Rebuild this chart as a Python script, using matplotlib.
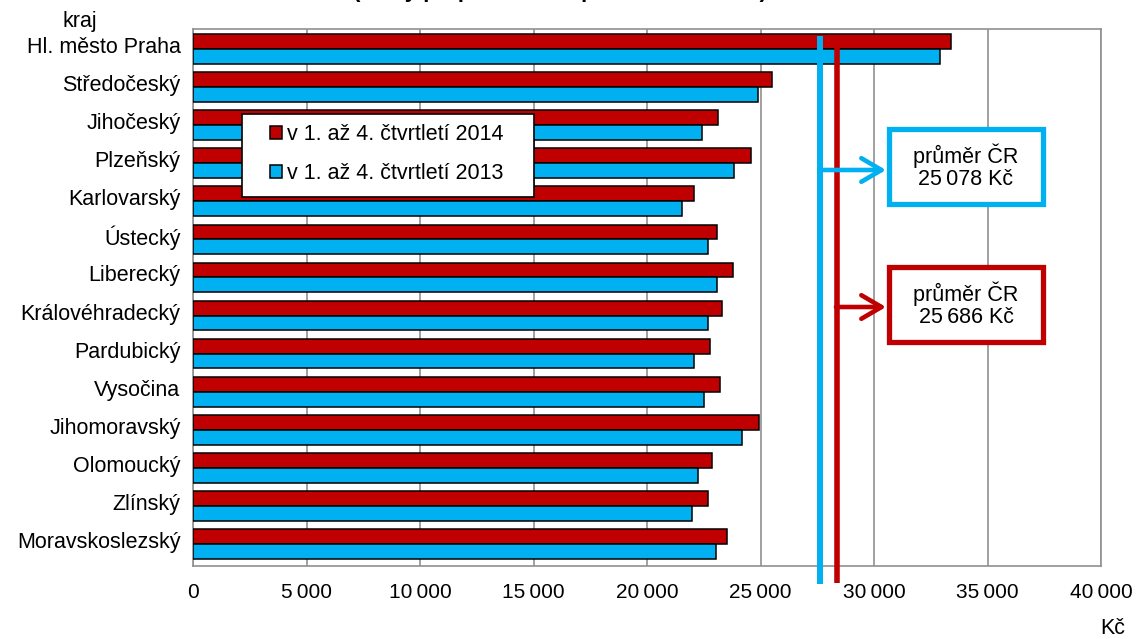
import numpy as np
import matplotlib
matplotlib.use("Agg")
import matplotlib.pyplot as plt
from matplotlib.patches import Rectangle
from matplotlib.transforms import ScaledTranslation

plt.rcParams['font.family'] = ['Liberation Sans', 'DejaVu Sans']

#%% data
kraje = ['Hl. město Praha', 'Středočeský', 'Jihočeský', 'Plzeňský', 'Karlovarský',
         'Ústecký', 'Liberecký', 'Královéhradecký', 'Pardubický', 'Vysočina',
         'Jihomoravský', 'Olomoucký', 'Zlínský', 'Moravskoslezský']
mzda_2014 = [33374, 25502, 23142, 24567, 22084, 23062, 23775,
             23317, 22797, 23229, 24920, 22877, 22700, 23510]
mzda_2013 = [32921, 24894, 22436, 23846, 21542, 22700, 23062,
             22700, 22084, 22520, 24199, 22261, 21996, 23047]
label_2014 = 'v 1. až 4. čtvrtletí 2014'
label_2013 = 'v 1. až 4. čtvrtletí 2013'
prumer_2013 = '25\u2009078 Kč'
prumer_2014 = '25\u2009686 Kč'
# vertical marker lines, as drawn in the original
line_2013 = 27620
line_2014 = 28350

red = '#C00000'
blue = '#00B0F0'
W, H = 1139, 639

fig = plt.figure(figsize=(W / 100, H / 100), dpi=100)
ax = fig.add_axes([193 / W, 1 - 566 / H, 908 / W, 537 / H])

y = np.arange(len(kraje))
bh = 0.39
ax.barh(y - bh / 2, mzda_2014, height=bh, color=red, edgecolor='black',
        linewidth=1.1, label=label_2014, zorder=3)
ax.barh(y + bh / 2, mzda_2013, height=bh, color=blue, edgecolor='black',
        linewidth=1.1, label=label_2013, zorder=3)

ax.set_ylim(13.577, -0.525)
ax.set_xlim(0, 40000)
ax.set_yticks(y)
ax.set_yticklabels(kraje, fontsize=15.5)
ax.set_xticks(np.arange(0, 40001, 5000))
ax.set_xticklabels([f'{v:,}'.replace(',', '\u2009') for v in range(0, 40001, 5000)],
                   fontsize=15)
ax.tick_params(axis='y', length=0, pad=9)
ax.tick_params(axis='x', length=0, pad=12)
up = ScaledTranslation(0, 4 / 100, fig.dpi_scale_trans)
for lab in ax.get_yticklabels():
    lab.set_transform(lab.get_transform() + up)
ax.grid(axis='x', color='#909090', linewidth=1.2, zorder=0)
for s in ax.spines.values():
    s.set_color('#909090')
    s.set_linewidth(1.2)

# marker lines
ax.plot([line_2013, line_2013], [-0.34, 14.05], color=blue, linewidth=4.3,
        clip_on=False, zorder=5, solid_capstyle='butt')
ax.plot([line_2014, line_2014], [-0.21, 14.02], color=red, linewidth=4.0,
        clip_on=False, zorder=5, solid_capstyle='butt')


def px(x, yy):
    return (x / W, 1 - yy / H)


# arrows + boxes
for xline, yy, col, ytop, txt in [(820, 170, blue, 129, prumer_2013),
                                  (836, 307, red, 267, prumer_2014)]:
    fig.patches.append(Rectangle(px(889, ytop + 75), 154 / W, 75 / H,
                                 transform=fig.transFigure, facecolor='white',
                                 edgecolor=col, linewidth=3.8, zorder=6))
    fig.text(966 / W, 1 - (ytop + 38) / H, 'průměr ČR\n' + txt, ha='center',
             va='center', fontsize=15.5, linespacing=1.05, zorder=7)
    ax.annotate('', xy=px(886, yy), xytext=px(xline, yy),
                xycoords='figure fraction', textcoords='figure fraction',
                arrowprops=dict(arrowstyle='->,head_length=1.45,head_width=0.85',
                                color=col, lw=3.3, shrinkA=0, shrinkB=0),
                zorder=6)

# legend with its own frame
ax.add_patch(Rectangle(px(242, 197), 292 / W, 83 / H,
                       transform=fig.transFigure, facecolor='white',
                       edgecolor='black', linewidth=1.2, zorder=7,
                       clip_on=False))
leg = ax.legend(loc='upper left', bbox_to_anchor=px(270, 124),
                bbox_transform=fig.transFigure, fontsize=15.5, frameon=False,
                borderaxespad=0, borderpad=0, handlelength=0.55,
                handleheight=0.55, handletextpad=0.25, labelspacing=0.85)
leg.set_zorder(8)

fig.text(80 / W, 1 - 22 / H, 'kraj', ha='center', va='center', fontsize=15.5,
         zorder=9, bbox=dict(facecolor='white', edgecolor='none', pad=0.5))
fig.text(1113 / W, 1 - 628 / H, 'Kč', ha='center', va='center', fontsize=15.5)
fig.text(560 / W, 1 + 3 / H, '(mzdy přepočtené na plně zaměstnané)',
         ha='center', va='baseline', fontsize=16, fontweight='bold')

fig.savefig('out.png', dpi=100)
